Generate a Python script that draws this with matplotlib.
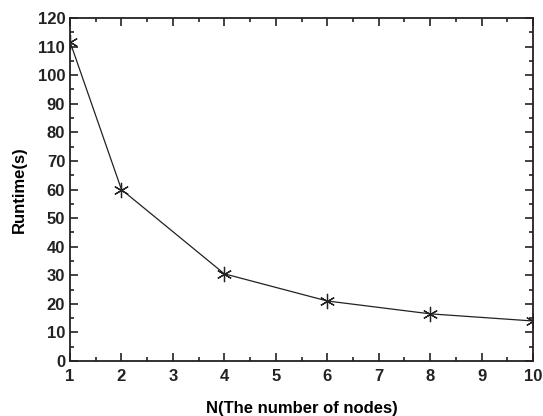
import matplotlib
matplotlib.use("Agg")
import matplotlib.pyplot as plt
from matplotlib.ticker import MultipleLocator

nodes = [1, 2, 4, 6, 8, 10]
runtime = [111.7, 60, 30.5, 21, 16.5, 14]

plt.rcParams['font.family'] = ['Liberation Sans', 'DejaVu Sans']
plt.rcParams['font.weight'] = 'bold'
fig = plt.figure(figsize=(5.43, 4.16), dpi=100)
ax = fig.add_axes([70/543, 1-361/416, (533-70)/543, (361-18)/416])

ax.plot(nodes, runtime, color='#222222', lw=0.9,
        marker=(6, 2, 0), ms=11, mec='#222222', mew=0.9)

ax.set_xlim(1, 10)
ax.set_ylim(0, 120)
ax.xaxis.set_major_locator(MultipleLocator(1))
ax.xaxis.set_minor_locator(MultipleLocator(0.5))
ax.yaxis.set_major_locator(MultipleLocator(10))
ax.yaxis.set_minor_locator(MultipleLocator(5))
ax.tick_params(which='both', direction='in', top=True, right=True,
               labelsize=12, width=1.2, colors='#222222')
ax.tick_params(which='major', length=6)
ax.tick_params(which='minor', length=3)
ax.tick_params(axis='x', pad=6)
for s in ax.spines.values():
    s.set_linewidth(1.3)
    s.set_color('#222222')

ax.set_xlabel('N(The number of nodes)', fontsize=12, fontweight='bold', labelpad=12)
ax.set_ylabel('Runtime(s)', fontsize=12, fontweight='bold', labelpad=8)

fig.savefig('out.png', dpi=100)
